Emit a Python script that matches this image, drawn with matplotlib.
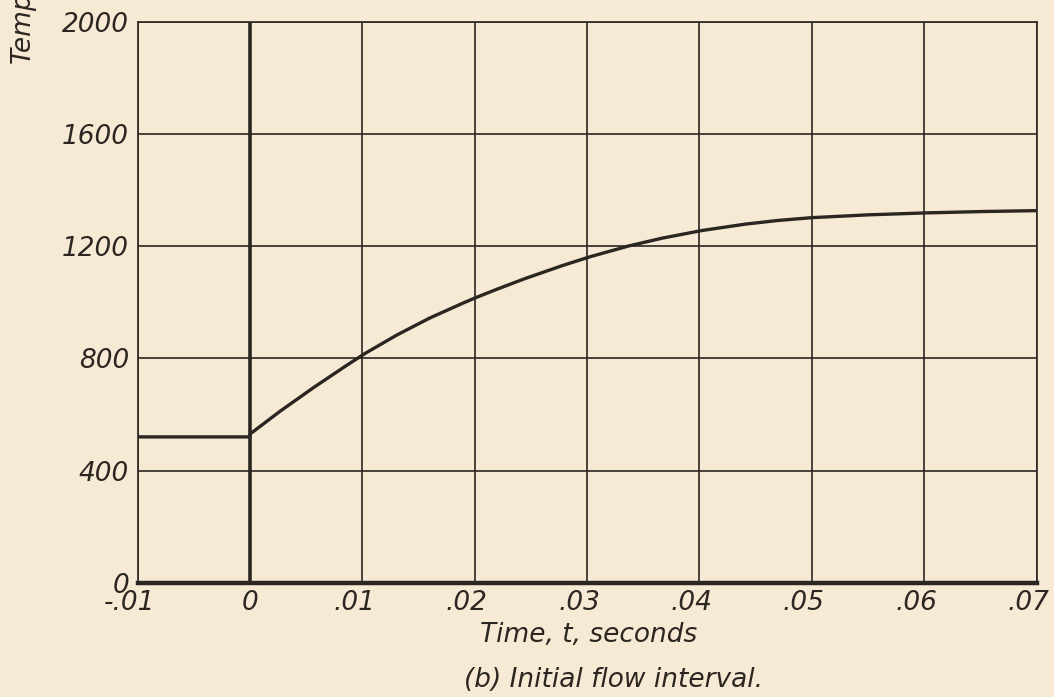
import numpy as np
import matplotlib.pyplot as plt
from matplotlib.transforms import ScaledTranslation

# temperature trace
time_s = [-0.01, 0.0, 0.0, 0.0027, 0.0057, 0.0086, 0.0103, 0.0131, 0.016,
          0.019, 0.0203, 0.022, 0.0245, 0.0278, 0.0303, 0.0337, 0.0367,
          0.0402, 0.0441, 0.047, 0.05, 0.055, 0.0602, 0.0654, 0.07]
temp = [520, 520, 530, 612, 697, 775, 819, 884, 944,
        998, 1020, 1047, 1085, 1131, 1163, 1201, 1229,
        1256, 1279, 1292, 1302, 1312, 1319, 1324, 1327]

x_ticks = [-0.01, 0.0, 0.01, 0.02, 0.03, 0.04, 0.05, 0.06, 0.07]
x_labels = ['-.01', '0', '.01', '.02', '.03', '.04', '.05', '.06', '.07']
y_ticks = [0, 400, 800, 1200, 1600, 2000]
y_labels = ['0', '400', '800', '1200', '1600', '2000']

paper = '#f7ead5'
ink = '#2b2621'

plt.rcParams['font.family'] = ['DejaVu Sans']
plt.rcParams['font.style'] = 'oblique'

fig = plt.figure(figsize=(10.54, 6.97), dpi=100, facecolor=paper)
ax = fig.add_axes([0.1305, 0.164, 0.853, 0.8045])
ax.set_facecolor(paper)

ax.set_xlim(-0.01, 0.07)
ax.set_ylim(0, 2000)
ax.set_xticks(x_ticks)
ax.set_xticklabels(x_labels, fontsize=19, color=ink)
ax.set_yticks(y_ticks)
ax.set_yticklabels(y_labels, fontsize=19, color=ink)
ax.tick_params(length=0)
ax.tick_params(axis='y', pad=6)
ax.tick_params(axis='x', pad=5)

# hand lettering sits a little left of each grid line
for lab in ax.get_xticklabels():
    if lab.get_text() != '0':
        lab.set_transform(lab.get_transform() +
                          ScaledTranslation(-8 / 100, 0, fig.dpi_scale_trans))

ax.grid(True, color=ink, linewidth=1.2)
ax.set_axisbelow(True)
for side in ['left', 'top', 'right']:
    ax.spines[side].set_color(ink)
    ax.spines[side].set_linewidth(1.2)
ax.spines['bottom'].set_color(ink)
ax.spines['bottom'].set_linewidth(3.2)

ax.axvline(0, color=ink, linewidth=2.6)
ax.plot(time_s, temp, color=ink, linewidth=2.4, solid_capstyle='butt',
        solid_joinstyle='round')

fig.text(0.558, 1 - 635 / 697, 'Time, t, seconds', fontsize=19, color=ink,
         ha='center', va='center')
fig.text(0.5825, 1 - 680 / 697, '(b) Initial flow interval.', fontsize=19,
         color=ink, ha='center', va='center')
fig.text(0.022, 0.91, 'Temperature', fontsize=19, color=ink, rotation=90,
         rotation_mode='anchor', ha='left', va='center')

fig.savefig('out.png', dpi=100, facecolor=paper)
